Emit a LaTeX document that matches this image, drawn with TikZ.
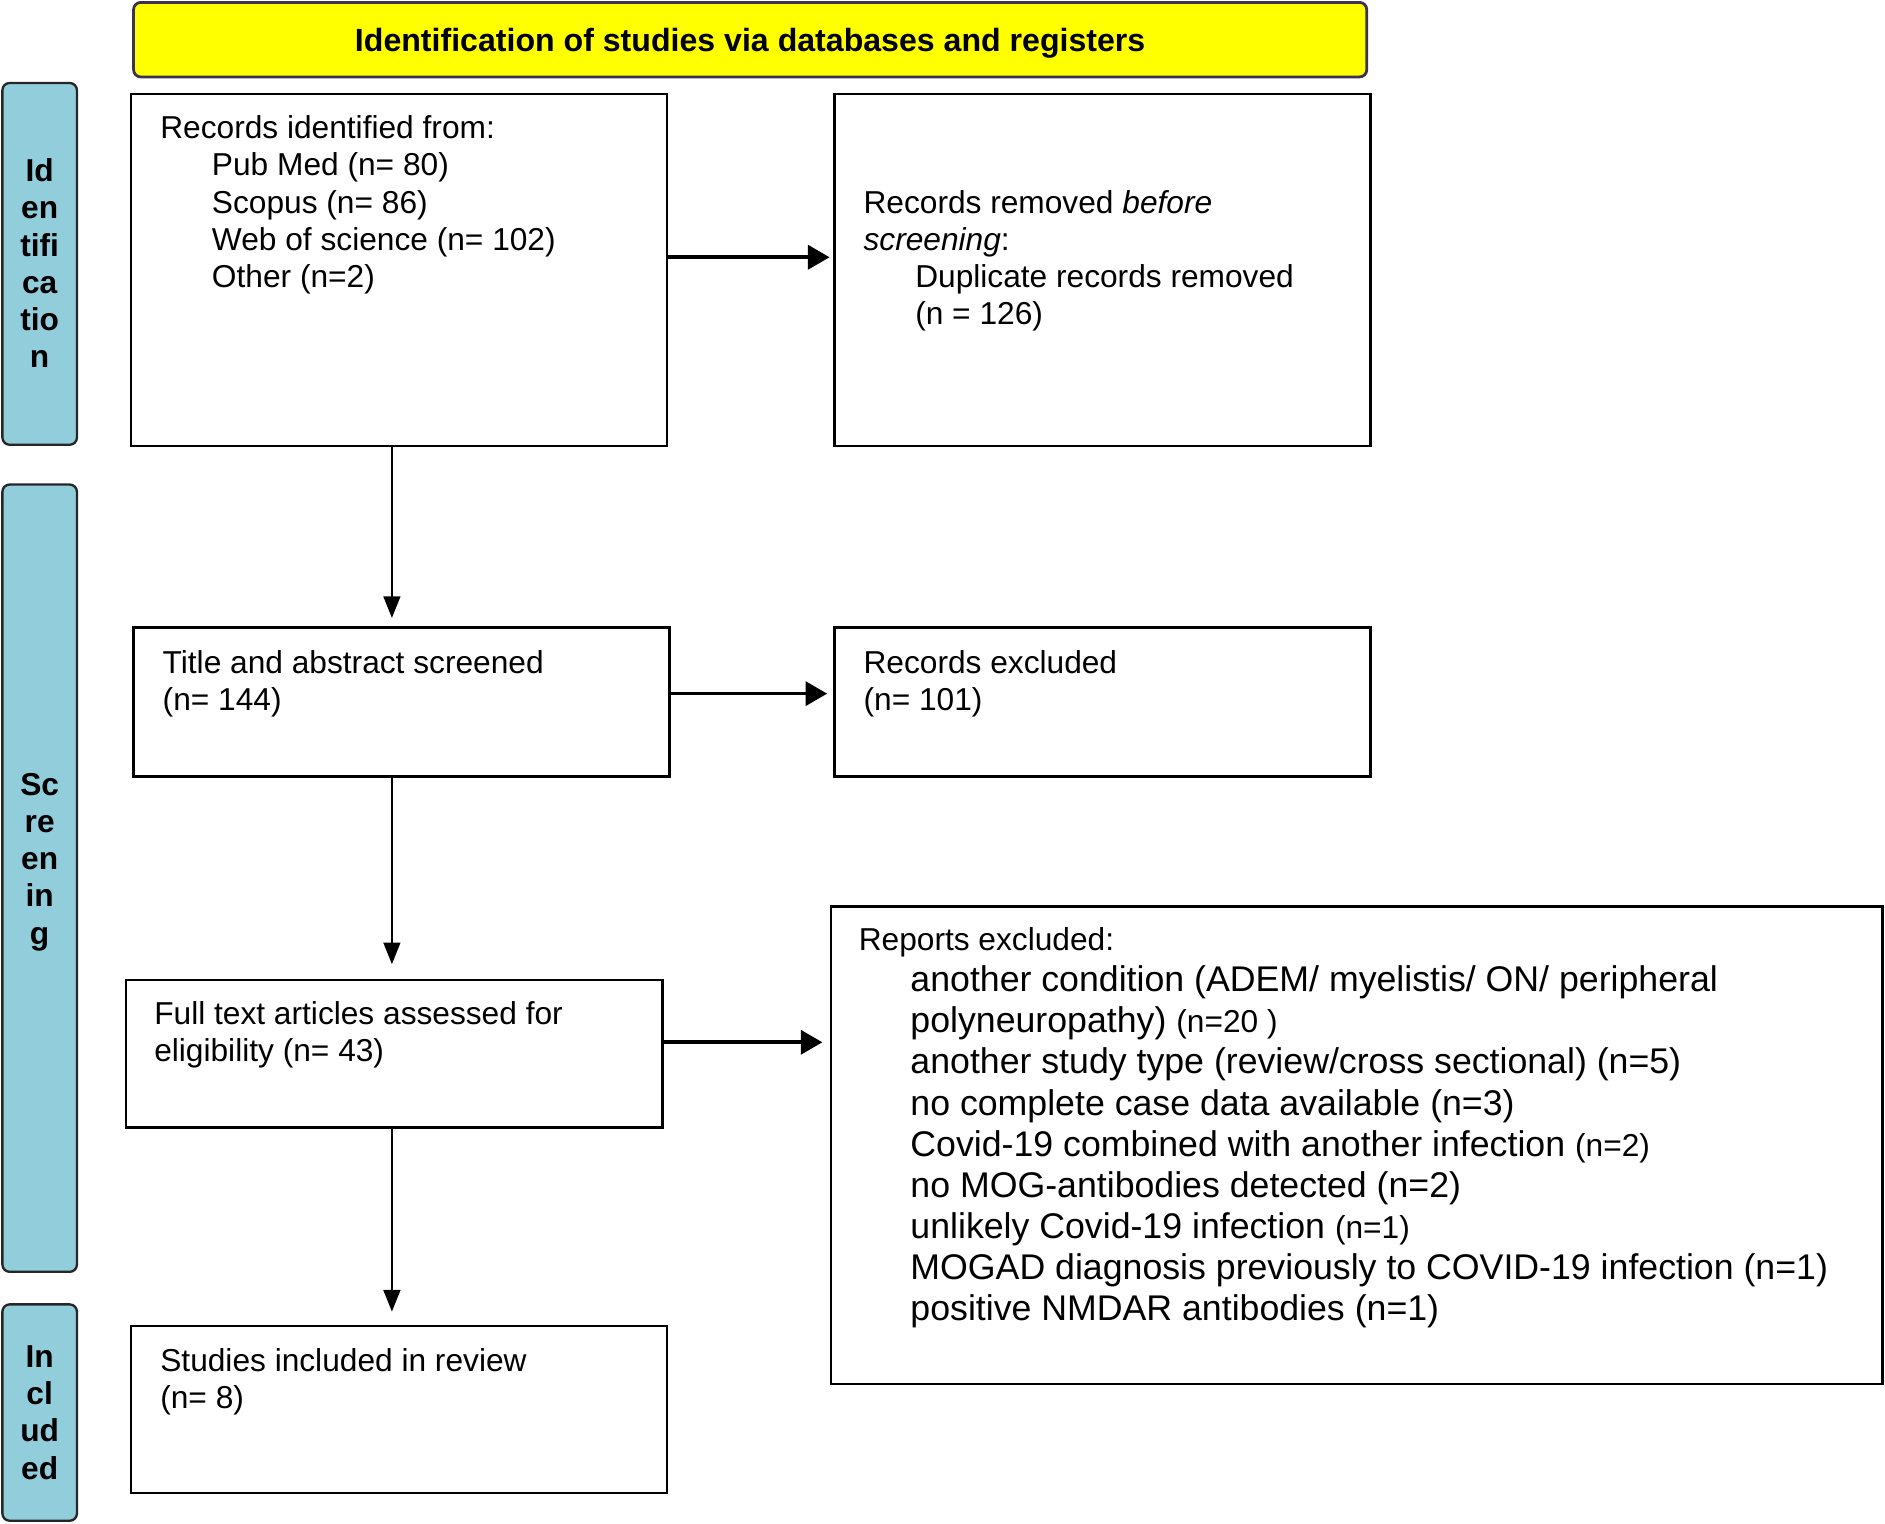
\documentclass[tikz,border=0pt]{standalone}
\usepackage{fontspec}
\setmainfont{Liberation Sans}
\usetikzlibrary{arrows.meta}

\definecolor{hdryellow}{RGB}{255,255,0}
\definecolor{hdrline}{RGB}{58,50,78}
\definecolor{sideblue}{RGB}{146,205,220}

\tikzset{
  box/.style={draw=black, line width=1.1pt, minimum width=8.92cm, outer sep=0pt},
  txt/.style={anchor=north west, inner sep=0pt, align=left, font=\fontsize{15}{17.6}\selectfont},
  bigtxt/.style={anchor=north west, inner sep=0pt, align=left, font=\fontsize{16.9}{19.5}\selectfont},
  sidebar/.style={draw=black!85, fill=sideblue, rounded corners=0.12cm, line width=1.1pt, minimum width=1.24cm},
  sidelbl/.style={align=center, inner sep=0pt, font=\fontsize{15}{17.6}\selectfont\bfseries},
  vline/.style={line width=1pt, -{Triangle[length=0.36cm,width=0.28cm]}},
  hline/.style={line width=1.7pt, -{Triangle[length=0.36cm,width=0.4cm]}}
}
\newcommand{\ind}{\hspace*{0.86cm}}

\begin{document}
\begin{tikzpicture}[x=0.02cm, y=-0.02cm]
\useasboundingbox (0,0) rectangle (1568,1267);

% header
\node [draw=hdrline, fill=hdryellow, line width=1.3pt, rounded corners=0.12cm,
       minimum width=20.52cm, minimum height=1.24cm, text height=11pt, text depth=0pt,
       font=\fontsize{15.2}{17.6}\selectfont\bfseries]
      (head) at (624,33) {Identification of studies via databases and registers};

% side bars
\node [sidebar, minimum height=6.02cm] (barid) at (33,219.5) {};
\node [sidebar, minimum height=13.1cm] (barsc) at (33,730.5) {};
\node [sidebar, minimum height=3.6cm]  (barin) at (33,1175) {};
\node [sidelbl] (lblid) at (33,219) {Id\\en\\tifi\\ca\\tio\\n};
\node [sidelbl] (lblsc) at (33,717) {Sc\\re\\en\\in\\g};
\node [sidelbl] (lblin) at (33,1175) {In\\cl\\ud\\ed};

% boxes
\node [box, minimum height=5.86cm] (recid)  at (332,224.5) {};
\node [box, minimum height=5.86cm] (recrem) at (917,224.5) {};
\node [box, minimum height=2.48cm] (screen) at (334,584) {};
\node [box, minimum height=2.48cm] (recexc) at (917,584) {};
\node [box, minimum height=2.46cm] (full)   at (328,876.5) {};
\node [box, minimum width=17.5cm, minimum height=7.94cm] (repexc) at (1128.5,952.5) {};
\node [box, minimum height=2.78cm] (incl)   at (332,1172.5) {};

% box texts
\node [txt] (trecid) at (133,96) {Records identified from:\\
  \ind Pub Med (n= 80)\\ \ind Scopus (n= 86)\\ \ind Web of science (n= 102)\\ \ind Other (n=2)};
\node [txt] (trecrem) at (718,158) {Records removed \textit{before}\\ \textit{screening}:\\
  \ind Duplicate records removed\\ \ind (n = 126)};
\node [txt] (tscreen) at (135,541) {Title and abstract screened\\(n= 144)};
\node [txt] (trecexc) at (718,541) {Records excluded\\(n= 101)};
\node [txt] (tfull) at (128,833) {Full text articles assessed for\\eligibility (n= 43)};
\node [bigtxt] (trepexc) at (714,771) {{\fontsize{15}{17.6}\selectfont Reports excluded:}\\
  \ind another condition (ADEM/ myelistis/ ON/ peripheral\\
  \ind polyneuropathy) {\fontsize{15}{17.6}\selectfont (n=20 )}\\
  \ind another study type (review/cross sectional) (n=5)\\
  \ind no complete case data available (n=3)\\
  \ind Covid-19 combined with another infection {\fontsize{15}{17.6}\selectfont (n=2)}\\
  \ind no MOG-antibodies detected (n=2)\\
  \ind unlikely Covid-19 infection {\fontsize{15}{17.6}\selectfont (n=1)}\\
  \ind MOGAD diagnosis previously to COVID-19 infection (n=1)\\
  \ind positive NMDAR antibodies (n=1)};
\node [txt] (tincl) at (133,1121) {Studies included in review\\(n= 8)};

% arrows
\coordinate (vx) at (326,0);
\coordinate (h1) at (0,214);
\coordinate (h2) at (0,577);
\coordinate (h3) at (0,867);
\draw [vline, shorten >=0.16cm] (recid.south -| vx) -- (screen.north -| vx);
\draw [vline, shorten >=0.26cm] (screen.south -| vx) -- (full.north -| vx);
\draw [vline, shorten >=0.24cm] (full.south -| vx) -- (incl.north -| vx);
\draw [hline, shorten >=0.08cm] (recid.east |- h1) -- (recrem.west |- h1);
\draw [hline, shorten >=0.12cm] (screen.east |- h2) -- (recexc.west |- h2);
\draw [hline, shorten >=0.14cm] (full.east |- h3) -- (repexc.west |- h3);
\end{tikzpicture}
\end{document}
